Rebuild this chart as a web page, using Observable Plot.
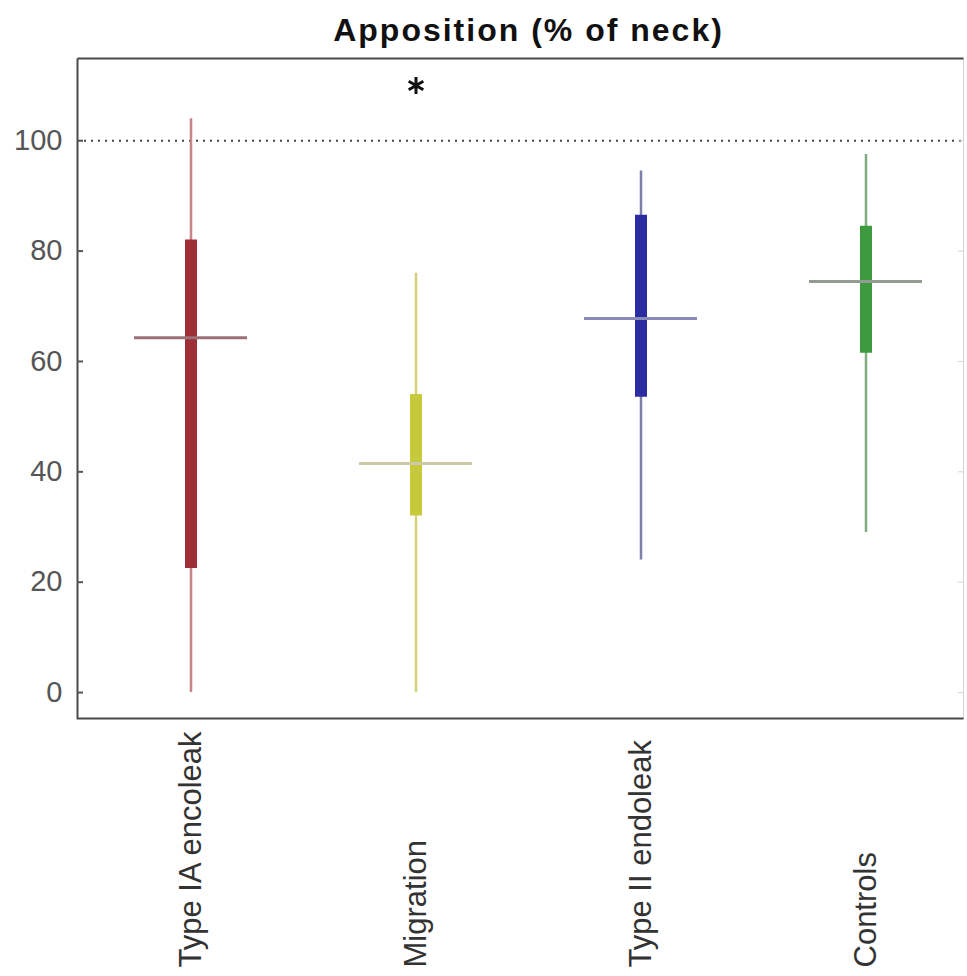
<!DOCTYPE html>
<html>
<head>
<meta charset="utf-8">
<script src="https://cdn.jsdelivr.net/npm/d3@7"></script>
<script src="https://cdn.jsdelivr.net/npm/@observablehq/plot@0.6"></script>
<style>
  html, body { margin: 0; padding: 0; background: #fff; }
  #chart svg { font-family: "Liberation Sans", Arial, sans-serif; }
</style>
</head>
<body>
<div id="chart"></div>
<script>
const categories = ["Type IA encoleak", "Migration", "Type II endoleak", "Controls"];
const whiskerLow = [0, 0, 24, 29];
const whiskerHigh = [104, 76, 94.5, 97.5];
const q1 = [22.5, 32, 53.5, 61.5];
const q3 = [82, 54, 86.5, 84.5];
const medians = [64.3, 41.5, 67.8, 74.5];
const boxColors = ["#9e2f36", "#c6c93c", "#2c2ca2", "#3d9a3e"];
const whiskerColors = ["#c8848a", "#d2d27a", "#7e7eaa", "#80ac80"];
const medianColors = ["#9c7078", "#cacaa6", "#8a8ab8", "#929c92"];
const yTicks = [0, 20, 40, 60, 80, 100];
const refLine = [100];
const significant = [{cat: "Migration", y: 110}];
const title = "Apposition (% of neck)";

const data = categories.map((c, i) => ({
  cat: c, lo: whiskerLow[i], hi: whiskerHigh[i], q1: q1[i], q3: q3[i], med: medians[i],
  box: boxColors[i], wh: whiskerColors[i], mc: medianColors[i]
}));

const W = 967, H = 976, ML = 77, MR = 4, MT = 58, MB = 258;
const fw = W - ML - MR, fh = H - MT - MB;

const chart = Plot.plot({
  width: W,
  height: H,
  marginLeft: ML,
  marginRight: MR,
  marginTop: MT,
  marginBottom: MB,
  style: {fontFamily: "Liberation Sans, Arial, sans-serif", background: "#fff"},
  x: {type: "band", domain: categories, range: [77, 978], padding: 0},
  y: {domain: [-4.7, 114.9]},
  marks: [
    Plot.frame({stroke: "#d4d4d4", strokeWidth: 1}),
    Plot.frame({stroke: "#4a4a4a", strokeWidth: 2, strokeDasharray: `${fw} ${fh} ${fw + fh} 0`}),
    Plot.ruleY(refLine, {stroke: "#444", strokeWidth: 2, strokeDasharray: "2,5"}),
    Plot.ruleX(data, {x: "cat", y1: "lo", y2: "hi", stroke: "wh", strokeWidth: 2.5}),
    Plot.ruleX(data, {x: "cat", y1: "q1", y2: "q3", stroke: "box", strokeWidth: 12}),
    Plot.tickY(data, {x: "cat", y: "med", stroke: "mc", strokeWidth: 3, inset: 56}),
    Plot.dot(significant, {x: "cat", y: "y", symbol: "asterisk", r: 8, stroke: "#111", strokeWidth: 3}),
    Plot.axisY(yTicks, {anchor: "left", tickSize: -6, tickPadding: 21, fontSize: 29, color: "#555", strokeWidth: 2, label: null}),
    Plot.axisY(yTicks, {anchor: "right", tickSize: -6, text: null, stroke: "#d4d4d4", label: null}),
    Plot.axisX({anchor: "bottom", tickSize: 0, tickPadding: 249, tickRotate: -90, textAnchor: "start", fontSize: 31, color: "#333", label: null}),
    Plot.text([title], {frameAnchor: "top", lineAnchor: "middle", dy: -28, dx: 8, fontSize: 32, fontWeight: "bold", fill: "#111"})
  ]
});
d3.select(chart).selectAll('g[aria-label="text"] text').attr("letter-spacing", 2);
document.getElementById("chart").appendChild(chart);
</script>
</body>
</html>
